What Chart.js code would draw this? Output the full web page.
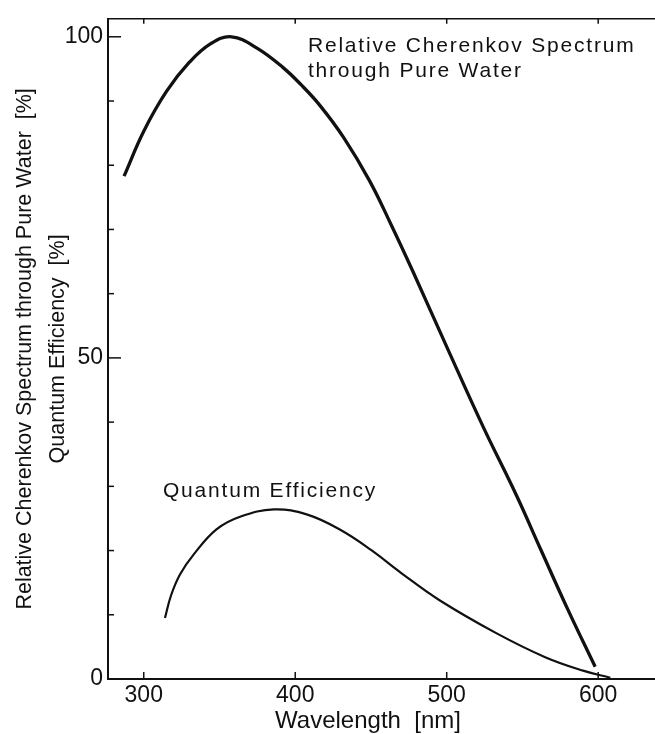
<!DOCTYPE html>
<html>
<head>
<meta charset="utf-8">
<script src="https://cdn.jsdelivr.net/npm/chart.js@4.4.1/dist/chart.umd.min.js"></script>
<style>
  html, body { margin: 0; padding: 0; background: #fff; }
  canvas { display: block; }
</style>
</head>
<body>
<canvas id="myChart" width="655" height="734"></canvas>
<script>
// values: wavelength in nm, response in %
const cherenkovWavelength = [287, 300, 315, 330, 344, 358, 375, 392, 404, 416, 432, 449, 463, 478, 501, 524, 546, 562, 580, 598];
const cherenkovValue = [78.3, 85.3, 91.5, 96.0, 98.9, 100, 98.2, 95.2, 92.5, 89.4, 84.3, 77.6, 70.9, 63.3, 51.2, 39.3, 28.6, 20.2, 10.8, 1.9];

const qeWavelength = [314, 318, 324, 333, 348, 364, 386, 408, 430, 450, 470, 495, 533, 565, 590, 608];
const qeValue = [9.5, 13.0, 16.3, 19.4, 23.3, 25.3, 26.4, 25.6, 23.2, 20.1, 16.5, 12.3, 7.1, 3.4, 1.3, 0.2];

const yLabelValues = [0, 50, 100];

const cherenkovLabel = ["Relative Cherenkov Spectrum", "through Pure Water"];
const qeLabel = "Quantum Efficiency";
const xTitle = "Wavelength  [nm]";
const yTitle = ["Relative Cherenkov Spectrum through Pure Water  [%]", "Quantum Efficiency  [%]"];

const ink = "#111";
const fontFamily = '"Liberation Sans", Arial, Helvetica, sans-serif';

function toPoints(xs, ys) {
  return xs.map((x, i) => ({ x: x, y: ys[i] }));
}

// draws the inward ticks, the top frame line and the curve labels
const frameAndLabels = {
  id: "frameAndLabels",
  afterDraw(chart) {
    const { ctx, chartArea: a, scales: { x, y } } = chart;
    ctx.save();
    ctx.strokeStyle = ink;
    ctx.lineWidth = 1.5;
    ctx.beginPath();
    ctx.moveTo(a.left, a.top);
    ctx.lineTo(a.right, a.top);
    ctx.stroke();

    x.ticks.forEach((t) => {
      const px = x.getPixelForValue(t.value);
      ctx.beginPath();
      ctx.moveTo(px, a.bottom);
      ctx.lineTo(px, a.bottom - 7);
      ctx.moveTo(px, a.top);
      ctx.lineTo(px, a.top + 5);
      ctx.stroke();
    });
    y.ticks.forEach((t) => {
      const py = y.getPixelForValue(t.value);
      const len = yLabelValues.includes(t.value) ? 13 : 6;
      ctx.beginPath();
      ctx.moveTo(a.left, py);
      ctx.lineTo(a.left + len, py);
      ctx.stroke();
    });

    // curve labels
    ctx.fillStyle = ink;
    ctx.font = "21px " + fontFamily;
    ctx.letterSpacing = "1.8px";
    ctx.textAlign = "left";
    ctx.textBaseline = "alphabetic";
    const cx = x.getPixelForValue(408.4);
    ctx.fillText(cherenkovLabel[0], cx, y.getPixelForValue(97.7));
    ctx.fillText(cherenkovLabel[1], cx, y.getPixelForValue(93.8));
    ctx.fillText(qeLabel, x.getPixelForValue(312.7), y.getPixelForValue(28.3));

    // x axis title
    ctx.letterSpacing = "0px";
    ctx.font = "24px " + fontFamily;
    ctx.textAlign = "center";
    ctx.fillText(xTitle, 368, 728);
    ctx.restore();
  },
};

const config = {
  type: "scatter",
  data: {
    datasets: [
      {
        label: "Relative Cherenkov Spectrum through Pure Water",
        data: toPoints(cherenkovWavelength, cherenkovValue),
        showLine: true,
        borderColor: ink,
        borderWidth: 3.3,
        pointRadius: 0,
        tension: 0.4,
      },
      {
        label: "Quantum Efficiency",
        data: toPoints(qeWavelength, qeValue),
        showLine: true,
        borderColor: ink,
        borderWidth: 2.2,
        pointRadius: 0,
        tension: 0.4,
      },
    ],
  },
  options: {
    responsive: false,
    animation: false,
    layout: { padding: { top: 14, right: 0, left: 0, bottom: 0 } },
    plugins: {
      legend: { display: false },
      tooltip: { enabled: false },
    },
    scales: {
      x: {
        type: "linear",
        min: 276.4,
        max: 637.5,
        afterFit: (scale) => { scale.height = 55; },
        grid: { display: false, drawTicks: false },
        border: { display: true, color: ink, width: 2 },
        ticks: {
          stepSize: 100,
          includeBounds: false,
          padding: 3,
          color: ink,
          font: { family: fontFamily, size: 23 },
          maxRotation: 0,
        },
        title: { display: false },
      },
      y: {
        type: "linear",
        min: 0,
        max: 102.8,
        afterFit: (scale) => { scale.width = 108; },
        grid: { display: false, drawTicks: false },
        border: { display: true, color: ink, width: 2 },
        ticks: {
          stepSize: 10,
          includeBounds: false,
          autoSkip: false,
          padding: 5,
          color: ink,
          font: { family: fontFamily, size: 23 },
          callback: (v) => (yLabelValues.includes(v) ? v : ""),
        },
        title: {
          display: true,
          text: yTitle,
          color: ink,
          font: { family: fontFamily, size: 21.5, lineHeight: 1.535 },
          padding: { top: 8.5, bottom: 0 },
        },
      },
    },
  },
  plugins: [frameAndLabels],
};

new Chart(document.getElementById("myChart").getContext("2d"), config);
</script>
</body>
</html>
